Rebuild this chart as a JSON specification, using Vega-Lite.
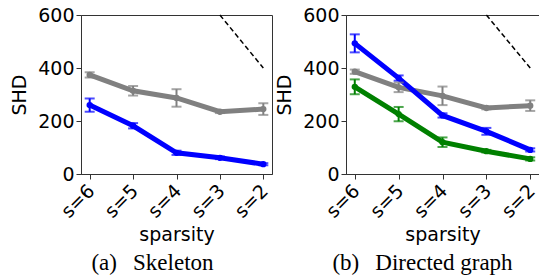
{
  "$schema": "https://vega.github.io/schema/vega-lite/v6.json",
  "padding": {"left": 10, "top": 5, "right": 0, "bottom": 0},
  "spacing": 1,
  "config": {
    "font": "DejaVu Sans",
    "view": {"stroke": "#333333", "strokeWidth": 1},
    "axis": {
      "grid": false,
      "domainColor": "#333333",
      "tickColor": "#333333",
      "tickSize": 5,
      "labelColor": "#000000",
      "titleColor": "#000000",
      "labelFontSize": 19,
      "titleFontSize": 19,
      "titleFontWeight": "normal",
      "labelFont": "DejaVu Sans",
      "titleFont": "DejaVu Sans"
    },
    "title": {"font": "Liberation Serif", "fontSize": 23, "fontWeight": "normal", "color": "#000000"}
  },
  "datasets": {
    "main": [
      {"panel": "a", "series": "gray", "sparsity": "s=6", "shd": 374, "lo": 364, "hi": 384},
      {"panel": "a", "series": "gray", "sparsity": "s=5", "shd": 314, "lo": 296, "hi": 332},
      {"panel": "a", "series": "gray", "sparsity": "s=4", "shd": 287, "lo": 254, "hi": 320},
      {"panel": "a", "series": "gray", "sparsity": "s=3", "shd": 235, "lo": 230, "hi": 240},
      {"panel": "a", "series": "gray", "sparsity": "s=2", "shd": 245, "lo": 223, "hi": 267},
      {"panel": "a", "series": "blue", "sparsity": "s=6", "shd": 260, "lo": 235, "hi": 285},
      {"panel": "a", "series": "blue", "sparsity": "s=5", "shd": 182, "lo": 172, "hi": 192},
      {"panel": "a", "series": "blue", "sparsity": "s=4", "shd": 80, "lo": 72, "hi": 88},
      {"panel": "a", "series": "blue", "sparsity": "s=3", "shd": 61, "lo": 56, "hi": 66},
      {"panel": "a", "series": "blue", "sparsity": "s=2", "shd": 37, "lo": 33, "hi": 41},
      {"panel": "b", "series": "gray", "sparsity": "s=6", "shd": 386, "lo": 378, "hi": 394},
      {"panel": "b", "series": "gray", "sparsity": "s=5", "shd": 327, "lo": 309, "hi": 345},
      {"panel": "b", "series": "gray", "sparsity": "s=4", "shd": 295, "lo": 260, "hi": 330},
      {"panel": "b", "series": "gray", "sparsity": "s=3", "shd": 249, "lo": 244, "hi": 254},
      {"panel": "b", "series": "gray", "sparsity": "s=2", "shd": 258, "lo": 238, "hi": 278},
      {"panel": "b", "series": "green", "sparsity": "s=6", "shd": 329, "lo": 301, "hi": 357},
      {"panel": "b", "series": "green", "sparsity": "s=5", "shd": 226, "lo": 199, "hi": 253},
      {"panel": "b", "series": "green", "sparsity": "s=4", "shd": 120, "lo": 102, "hi": 138},
      {"panel": "b", "series": "green", "sparsity": "s=3", "shd": 86, "lo": 81, "hi": 91},
      {"panel": "b", "series": "green", "sparsity": "s=2", "shd": 57, "lo": 51, "hi": 63},
      {"panel": "b", "series": "blue", "sparsity": "s=6", "shd": 493, "lo": 459, "hi": 527},
      {"panel": "b", "series": "blue", "sparsity": "s=5", "shd": 362, "lo": 352, "hi": 372},
      {"panel": "b", "series": "blue", "sparsity": "s=4", "shd": 221, "lo": 213, "hi": 229},
      {"panel": "b", "series": "blue", "sparsity": "s=3", "shd": 161, "lo": 148, "hi": 174},
      {"panel": "b", "series": "blue", "sparsity": "s=2", "shd": 91, "lo": 85, "hi": 97}
    ],
    "ref": [
      {"panel": "a", "sparsity": "s=3", "shd": 600},
      {"panel": "a", "sparsity": "s=2", "shd": 400},
      {"panel": "b", "sparsity": "s=3", "shd": 600},
      {"panel": "b", "sparsity": "s=2", "shd": 400}
    ]
  },
  "hconcat": [
    {
      "width": 191,
      "height": 159,
      "title": {"text": "(a)\u2002\u2009Skeleton", "orient": "bottom", "anchor": "middle", "dx": -24, "offset": 8},
      "encoding": {
        "x": {"field": "sparsity", "type": "nominal", "sort": ["s=6", "s=5", "s=4", "s=3", "s=2"],
              "scale": {"type": "point", "padding": 0.2},
              "axis": {"title": "sparsity", "labelAngle": -45, "labelAlign": "right", "labelBaseline": "top", "labelOffset": -5, "titlePadding": 4}},
        "y": {"field": "shd", "type": "quantitative", "scale": {"domain": [0, 600], "nice": false},
              "axis": {"title": "SHD", "values": [0, 200, 400, 600], "titlePadding": 8}}
      },
      "layer": [
        {"data": {"name": "ref"}, "transform": [{"filter": "datum.panel === 'a'"}],
         "mark": {"type": "line", "color": "#000000", "strokeWidth": 1.5, "strokeDash": [5, 3]}},
        {"data": {"name": "main"}, "transform": [{"filter": "datum.panel === 'a'"}],
         "mark": {"type": "line", "strokeWidth": 5},
         "encoding": {"color": {"field": "series", "type": "nominal", "legend": null,
           "scale": {"domain": ["gray", "green", "blue"], "range": ["#808080", "#008000", "#0000ff"]}}}},
        {"data": {"name": "main"}, "transform": [{"filter": "datum.panel === 'a'"}],
         "mark": {"type": "rule", "strokeWidth": 2},
         "encoding": {"y": {"field": "lo", "type": "quantitative"}, "y2": {"field": "hi"},
           "color": {"field": "series", "type": "nominal", "legend": null}}},
        {"data": {"name": "main"}, "transform": [{"filter": "datum.panel === 'a'"}],
         "mark": {"type": "tick", "size": 10, "thickness": 2},
         "encoding": {"y": {"field": "lo", "type": "quantitative"},
           "color": {"field": "series", "type": "nominal", "legend": null}}},
        {"data": {"name": "main"}, "transform": [{"filter": "datum.panel === 'a'"}],
         "mark": {"type": "tick", "size": 10, "thickness": 2},
         "encoding": {"y": {"field": "hi", "type": "quantitative"},
           "color": {"field": "series", "type": "nominal", "legend": null}}},
        {"data": {"name": "main"}, "transform": [{"filter": "datum.panel === 'a'"}],
         "mark": {"type": "point", "filled": true, "size": 40, "opacity": 1},
         "encoding": {"color": {"field": "series", "type": "nominal", "legend": null}}}
      ]
    },
    {
      "width": 193,
      "height": 159,
      "title": {"text": "(b)\u2002\u2009Directed graph", "orient": "bottom", "anchor": "middle", "dx": -20, "offset": 8},
      "encoding": {
        "x": {"field": "sparsity", "type": "nominal", "sort": ["s=6", "s=5", "s=4", "s=3", "s=2"],
              "scale": {"type": "point", "padding": 0.2},
              "axis": {"title": "sparsity", "labelAngle": -45, "labelAlign": "right", "labelBaseline": "top", "labelOffset": -5, "titlePadding": 4}},
        "y": {"field": "shd", "type": "quantitative", "scale": {"domain": [0, 600], "nice": false},
              "axis": {"title": "SHD", "values": [0, 200, 400, 600], "titlePadding": 8}}
      },
      "layer": [
        {"data": {"name": "ref"}, "transform": [{"filter": "datum.panel === 'b'"}],
         "mark": {"type": "line", "color": "#000000", "strokeWidth": 1.5, "strokeDash": [5, 3]}},
        {"data": {"name": "main"}, "transform": [{"filter": "datum.panel === 'b'"}],
         "mark": {"type": "line", "strokeWidth": 5},
         "encoding": {"color": {"field": "series", "type": "nominal", "legend": null,
           "scale": {"domain": ["gray", "green", "blue"], "range": ["#808080", "#008000", "#0000ff"]}}}},
        {"data": {"name": "main"}, "transform": [{"filter": "datum.panel === 'b'"}],
         "mark": {"type": "rule", "strokeWidth": 2},
         "encoding": {"y": {"field": "lo", "type": "quantitative"}, "y2": {"field": "hi"},
           "color": {"field": "series", "type": "nominal", "legend": null}}},
        {"data": {"name": "main"}, "transform": [{"filter": "datum.panel === 'b'"}],
         "mark": {"type": "tick", "size": 10, "thickness": 2},
         "encoding": {"y": {"field": "lo", "type": "quantitative"},
           "color": {"field": "series", "type": "nominal", "legend": null}}},
        {"data": {"name": "main"}, "transform": [{"filter": "datum.panel === 'b'"}],
         "mark": {"type": "tick", "size": 10, "thickness": 2},
         "encoding": {"y": {"field": "hi", "type": "quantitative"},
           "color": {"field": "series", "type": "nominal", "legend": null}}},
        {"data": {"name": "main"}, "transform": [{"filter": "datum.panel === 'b'"}],
         "mark": {"type": "point", "filled": true, "size": 40, "opacity": 1},
         "encoding": {"color": {"field": "series", "type": "nominal", "legend": null}}}
      ]
    }
  ]
}
